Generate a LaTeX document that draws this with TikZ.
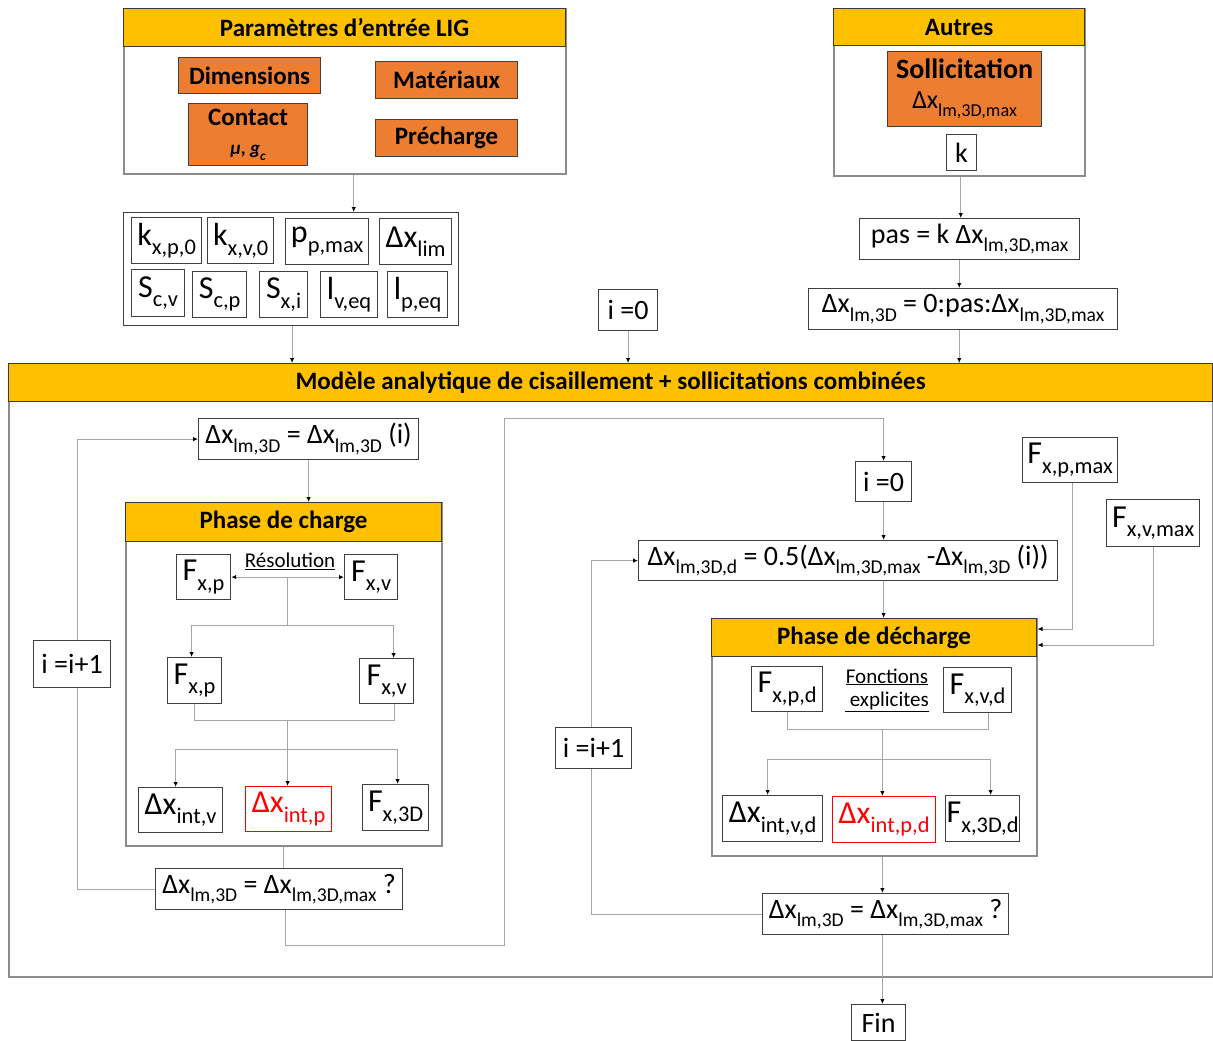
\documentclass[tikz,border=0pt]{standalone}
\usepackage{fontspec}
\setmainfont{Carlito}
\usetikzlibrary{arrows.meta,calc}
\definecolor{yel}{HTML}{FFC000}
\definecolor{orng}{HTML}{ED7D31}
\definecolor{bd}{HTML}{404040}
\definecolor{frc}{HTML}{8C8C8C}
\definecolor{lnc}{HTML}{A6A6A6}
\definecolor{hdb}{HTML}{3A3A3A}
\definecolor{rd}{HTML}{FF0000}
\makeatletter
\newcommand\lo[1]{\raisebox{-0.3em}{\fontsize{\strip@pt\dimexpr0.7\dimexpr\f@size pt\relax\relax}{1}\selectfont #1}}
\makeatother
\newcommand\fs[1]{\fontsize{#1}{#1}\selectfont}
\tikzset{
 sz/.style 2 args={minimum width=#1pt, minimum height=#2pt},
 bx/.style={draw=bd, line width=1.2pt, fill=white, inner sep=0pt, align=center, anchor=north west, font=\fs{28}},
 big/.style={bx, font=\fs{32}},
 ob/.style={bx, fill=orng, font=\bfseries\fs{25}},
 hd/.style={draw=hdb, line width=1.2pt, fill=yel, inner sep=0pt, anchor=north west, font=\bfseries\fs{25}},
 frm/.style={draw=frc, line width=1.5pt, fill=white, inner sep=0pt, anchor=north west},
 ln/.style={draw=lnc, line width=1pt},
 conn/.style={ln, -{Latex[length=5pt,width=4.5pt,color=black]}},
 lab/.style={inner sep=0pt, align=center, font=\fs{21}},
}
\begin{document}
\begin{tikzpicture}[x=1pt,y=-1pt]
\useasboundingbox (0,0) rectangle (1213,1041);
% ---------- top left ----------
\node[frm, sz={442}{165}] (lig) at (123,8) {};
\node[hd, sz={442}{38}] (lighd) at (123,8) {Paramètres d’entrée LIG};
\node[ob, sz={142}{36}] (dim) at (178,57) {Dimensions};
\node[ob, sz={142}{37}] (mat) at (375,61) {Matériaux};
\node[ob, sz={119}{62}] (con) at (188,103) {Contact\\[4pt]{\fs{19}\itshape μ, g\lo{c}}};
\node[ob, sz={142}{37}] (pre) at (375,119) {Précharge};
% ---------- top right ----------
\node[frm, sz={251}{167}] (aut) at (833,8) {};
\node[hd, sz={251}{37}] (authd) at (833,8) {Autres};
\node[ob, sz={154}{75}] (sol) at (887,51) {{\bfseries\fs{28}Sollicitation}\\[5pt]{\mdseries\fs{26}Δx\lo{lm,3D,max}}};
\node[bx, sz={30}{36}] (kk) at (946,134) {k};
% ---------- parameters ----------
\node[frm, draw=bd, line width=1.2pt, sz={335}{113}] (pbox) at (123,212) {};
\node[big, sz={70}{46}] (kxp0) at (131,217) {k\lo{x,p,0}};
\node[big, sz={66}{46}] (kxv0) at (207,217) {k\lo{x,v,0}};
\node[big, sz={83}{46}] (ppmax) at (285,218) {p\lo{p,max}};
\node[big, sz={72}{46}] (dxlim) at (379,218) {Δx\lo{lim}};
\node[big, sz={53}{47}] (scv) at (131,269) {S\lo{c,v}};
\node[big, sz={54}{46}] (scp) at (192,271) {S\lo{c,p}};
\node[big, sz={48}{46}] (sxi) at (259,271) {S\lo{x,i}};
\node[big, sz={57}{46}] (lveq) at (320,271) {l\lo{v,eq}};
\node[big, sz={60}{46}] (lpeq) at (387,271) {l\lo{p,eq}};
\node[bx, sz={59}{41}] (i0t) at (598,289) {i =0};
\node[bx, sz={220}{41}] (pas) at (859,218) {pas = k Δx\lo{lm,3D,max}};
\node[bx, sz={309}{41}] (rng) at (808,288) {Δx\lo{lm,3D} = 0:pas:Δx\lo{lm,3D,max}};
% ---------- main frame ----------
\node[frm, line width=2pt, sz={1204}{613}] (main) at (8,363) {};
\node[hd, sz={1204}{38}] (mainhd) at (8,363) {Modèle analytique de cisaillement + sollicitations combinées};
% ---------- charge ----------
\node[bx, sz={220}{41}] (xi) at (198,418) {Δx\lo{lm,3D} = Δx\lo{lm,3D} (i)};
\node[frm, sz={316}{343}] (chg) at (125,502) {};
\node[hd, sz={316}{39}] (chghd) at (125,502) {Phase de charge};
\node[big, sz={54}{45}] (fxp1) at (176,554) {F\lo{x,p}};
\node[big, sz={53}{45}] (fxv1) at (344,554) {F\lo{x,v}};
\node[lab] (res) at (290,561) {\underline{Résolution}};
\node[big, sz={54}{46}] (fxp2) at (167,657) {F\lo{x,p}};
\node[big, sz={54}{45}] (fxv2) at (359,658) {F\lo{x,v}};
\node[big, sz={84}{45}] (dxiv) at (138,787) {Δx\lo{int,v}};
\node[big, draw=rd, text=rd, sz={86}{45}] (dxip) at (245,786) {Δx\lo{int,p}};
\node[big, sz={66}{46}] (fx3d) at (362,784) {F\lo{x,3D}};
\node[bx, sz={247}{41}] (cond1) at (155,868) {Δx\lo{lm,3D} = Δx\lo{lm,3D,max} ?};
\node[bx, sz={77}{47}] (inc1) at (33,640) {i =i+1};
% ---------- decharge ----------
\node[bx, sz={56}{40}] (i0b) at (855,461) {i =0};
\node[bx, sz={419}{40}] (dxd) at (638,540) {Δx\lo{lm,3D,d} = 0.5(Δx\lo{lm,3D,max} -Δx\lo{lm,3D} (i))};
\node[big, sz={95}{45}] (fxpmax) at (1022,437) {F\lo{x,p,max}};
\node[big, sz={93}{47}] (fxvmax) at (1106,499) {F\lo{x,v,max}};
\node[frm, sz={325}{237}] (dec) at (711,618) {};
\node[hd, sz={325}{38}] (dechd) at (711,618) {Phase de décharge};
\node[big, sz={71}{45}] (fxpd) at (751,666) {F\lo{x,p,d}};
\node[big, sz={68}{45}] (fxvd) at (943,667) {F\lo{x,v,d}};
\node[lab] (fct) at (887,690) {\underline{Fonctions}\\[2pt]\underline{ explicites}};
\node[big, sz={100}{46}] (dxivd) at (722,795) {Δx\lo{int,v,d}};
\node[big, draw=rd, text=rd, sz={103}{46}] (dxipd) at (832,796) {Δx\lo{int,p,d}};
\node[big, sz={74}{46}] (fx3dd) at (945,795) {F\lo{x,3D,d}};
\node[bx, sz={246}{41}] (cond2) at (762,893) {Δx\lo{lm,3D} = Δx\lo{lm,3D,max} ?};
\node[bx, sz={76}{41}] (inc2) at (555,727) {i =i+1};
\node[bx, sz={54}{36}] (fin) at (851,1004) {Fin};
% ---------- connectors top ----------
\draw[conn] ([xshift=9]lig.south) -- ([xshift=9]lig.south |- pbox.north);
\draw[conn] ([xshift=1]pbox.south) -- ([xshift=1]pbox.south |- main.north);
\draw[conn] (i0t.south) -- (i0t.south |- main.north);
\draw[conn] ([xshift=1.5]aut.south) -- ([xshift=1.5]aut.south |- pas.north);
\draw[conn] (aut.south |- pas.south) -- (aut.south |- rng.north);
\draw[conn] (aut.south |- rng.south) -- (aut.south |- main.north);
% ---------- connectors charge ----------
\draw[conn] (xi.south) -- (xi.south |- chghd.north);
\draw[ln, {Latex[length=5pt,width=4.5pt,color=black]}-{Latex[length=5pt,width=4.5pt,color=black]}] (fxp1.east) -- (fxv1.west);
\coordinate (m1) at ($(fxp1.east)!0.5!(fxv1.west)$);
\coordinate (m1b) at ($(m1)+(0,48)$);
\draw[ln] (m1) -- (m1b);
\draw[conn] (m1b) -| ([xshift=-3]fxp2.north);
\draw[conn] (m1b) -| ([xshift=7]fxv2.north);
\coordinate (m2) at ($(m1)+(0,143.5)$);
\draw[ln] (fxp2.south) |- (m2) -| ([xshift=8]fxv2.south);
\draw[conn] (m2) -- (m2 |- dxip.north);
\coordinate (m2b) at ($(m2)+(0,29)$);
\draw[conn] (m2b) -| ([xshift=-5]dxiv.north);
\draw[conn] (m2b) -| ([xshift=2]fx3d.north);
\draw[ln] (chg.south) -- (chg.south |- cond1.north);
\draw[ln] (cond1.west) -| ([xshift=5]inc1.south);
\draw[conn] ([xshift=5]inc1.north) |- (xi.west);
\coordinate (lp) at (504,418);
\draw[conn] ([xshift=6]cond1.south) -- ++(0,35) -| (lp) -| (i0b.north);
% ---------- connectors decharge ----------
\draw[conn] (i0b.south) -- (i0b.south |- dxd.north);
\draw[conn] (i0b.south |- dxd.south) -- (i0b.south |- dechd.north);
\draw[conn] ([xshift=2]fxpmax.south) |- ([yshift=-11]dec.north east);
\draw[conn] (fxvmax.south) |- ([yshift=-27]dec.north east);
\coordinate (m3) at ($(fxpd.south)!0.5!(fxvd.south)+(0,16.5)$);
\draw[ln] (fxpd.south) |- (m3) -| ([xshift=11]fxvd.south);
\draw[conn] (m3) -- (m3 |- dxipd.north);
\coordinate (m3b) at ($(m3)+(0,30)$);
\draw[conn] (m3b) -| ([xshift=-5]dxivd.north);
\draw[conn] (m3b) -| ([xshift=8]fx3dd.north);
\draw[conn] (m3 |- dec.south) -- (m3 |- cond2.north);
\draw[ln] (cond2.west) -| ([xshift=-2]inc2.south);
\draw[conn] ([xshift=-2]inc2.north) |- (dxd.west);
\draw[conn] (m3 |- cond2.south) -- (m3 |- fin.north);
\end{tikzpicture}
\end{document}
